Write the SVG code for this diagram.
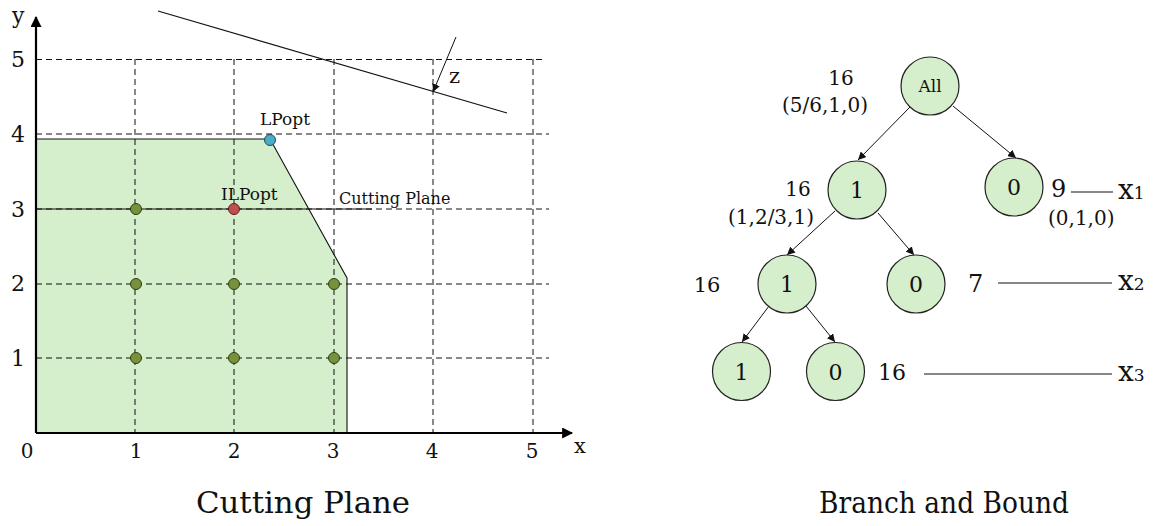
<svg xmlns="http://www.w3.org/2000/svg" width="1156" height="526" viewBox="0 0 1156 526">
<style>
.t{font-family:"DejaVu Serif","Liberation Serif",serif;fill:#111}
.m{text-anchor:middle}
.grid{stroke:#111;stroke-width:1;stroke-dasharray:6 4;fill:none}
.axis{stroke:#000;stroke-width:2.2;fill:none}
.thin{stroke:#111;stroke-width:1.1;fill:none}
.dot{fill:#76923c;stroke:#2f3d14;stroke-width:1}
.node circle{fill:#d5eecb;stroke:#222;stroke-width:1.2}
.edge{stroke:#111;stroke-width:1;fill:none;marker-end:url(#ah)}
</style>
<defs>
<marker id="ah" viewBox="0 0 10 10" refX="10" refY="5" markerWidth="8" markerHeight="8" markerUnits="userSpaceOnUse" orient="auto">
<path d="M0,0 L10,5 L0,10 z" fill="#111"/>
</marker>
<marker id="axh" viewBox="0 0 10 10" refX="9" refY="5" markerWidth="12" markerHeight="11" markerUnits="userSpaceOnUse" orient="auto">
<path d="M0,0 L10,5 L0,10 z" fill="#000"/>
</marker>
</defs>

<g id="cutting-plane">
<polygon points="36,139 270,139 347,278 347,433 36,433" fill="#d5eecb"/>
<g id="grid">
<line class="grid" x1="36" y1="59.5" x2="544" y2="59.5"/>
<line class="grid" x1="36" y1="134" x2="549" y2="134"/>
<line class="grid" x1="36" y1="209" x2="549" y2="209"/>
<line class="grid" x1="36" y1="284" x2="549" y2="284"/>
<line class="grid" x1="36" y1="358" x2="549" y2="358"/>
<line class="grid" x1="135" y1="59" x2="135" y2="433"/>
<line class="grid" x1="234" y1="59" x2="234" y2="433"/>
<line class="grid" x1="334" y1="59" x2="334" y2="433"/>
<line class="grid" x1="433" y1="59" x2="433" y2="433"/>
<line class="grid" x1="533" y1="59" x2="533" y2="433" stroke="#666"/>
</g>
<polyline class="thin" points="36,139 270,139 347,278 347,433"/>
<line class="thin" x1="36" y1="209" x2="372" y2="209"/>
<line class="axis" x1="36" y1="433" x2="36" y2="17" marker-end="url(#axh)"/>
<line class="axis" x1="36" y1="433" x2="572" y2="433" marker-end="url(#axh)"/>
<line class="thin" x1="158" y1="11" x2="507" y2="113"/>
<line class="edge" x1="456" y1="37" x2="433" y2="92"/>
<circle class="dot" cx="136" cy="209" r="5.5"/>
<circle class="dot" cx="136" cy="284" r="5.5"/>
<circle class="dot" cx="234" cy="284" r="5.5"/>
<circle class="dot" cx="334" cy="284" r="5.5"/>
<circle class="dot" cx="136" cy="358" r="5.5"/>
<circle class="dot" cx="234" cy="358" r="5.5"/>
<circle class="dot" cx="334" cy="358" r="5.5"/>
<circle cx="234" cy="209" r="5.5" fill="#c0504d" stroke="#5a1f1e" stroke-width="1"/>
<circle cx="270" cy="140" r="5.5" fill="#4bacc6" stroke="#1d4a57" stroke-width="1"/>
<text class="t" x="12" y="23" font-size="22">y</text>
<text class="t m" x="18" y="67" font-size="22">5</text>
<text class="t m" x="18" y="142" font-size="22">4</text>
<text class="t m" x="18" y="217" font-size="22">3</text>
<text class="t m" x="18" y="291" font-size="22">2</text>
<text class="t m" x="18" y="366" font-size="22">1</text>
<text class="t m" x="27" y="458" font-size="20">0</text>
<text class="t m" x="136" y="458" font-size="20">1</text>
<text class="t m" x="234" y="458" font-size="20">2</text>
<text class="t m" x="333" y="458" font-size="20">3</text>
<text class="t m" x="432" y="458" font-size="20">4</text>
<text class="t m" x="532" y="458" font-size="20">5</text>
<text class="t" x="574" y="453" font-size="21">x</text>
<text class="t" x="449" y="83" font-size="21">z</text>
<text class="t" x="260" y="125" font-size="17">LPopt</text>
<text class="t" x="221" y="200" font-size="17">ILPopt</text>
<text class="t" x="339" y="204" font-size="16">Cutting Plane</text>
<text class="t m" x="303" y="513" font-size="30" textLength="214" lengthAdjust="spacingAndGlyphs">Cutting Plane</text>
</g>

<g id="connectors">
<line class="edge" x1="910" y1="107" x2="858" y2="160"/>
<line class="edge" x1="953" y1="106" x2="1016" y2="158"/>
<line class="edge" x1="835" y1="211" x2="787" y2="255"/>
<line class="edge" x1="878" y1="213" x2="914" y2="255"/>
<line class="edge" x1="769" y1="306" x2="742" y2="342"/>
<line class="edge" x1="806" y1="306" x2="835" y2="342"/>
<line class="thin" x1="1071" y1="192" x2="1113" y2="192"/>
<line class="thin" x1="998" y1="283" x2="1112" y2="283"/>
<line class="thin" x1="924" y1="374" x2="1112" y2="374"/>
</g>

<g id="node-all" class="node"><circle cx="930" cy="86" r="29"/><text class="t m" x="930" y="92" font-size="17">All</text></g>
<g id="node-x1-1" class="node"><circle cx="857" cy="190" r="29"/><text class="t m" x="857" y="198" font-size="22">1</text></g>
<g id="node-x1-0" class="node"><circle cx="1014" cy="187" r="29"/><text class="t m" x="1014" y="195" font-size="22">0</text></g>
<g id="node-x2-1" class="node"><circle cx="787" cy="284" r="29"/><text class="t m" x="787" y="292" font-size="22">1</text></g>
<g id="node-x2-0" class="node"><circle cx="916" cy="284" r="29"/><text class="t m" x="916" y="292" font-size="22">0</text></g>
<g id="node-x3-1" class="node"><circle cx="741.5" cy="371.5" r="29"/><text class="t m" x="741.5" y="379.5" font-size="22">1</text></g>
<g id="node-x3-0" class="node"><circle cx="835.5" cy="371.5" r="29"/><text class="t m" x="835.5" y="379.5" font-size="22">0</text></g>

<g id="labels">
<text class="t m" x="841" y="85" font-size="20">16</text>
<text class="t m" x="825" y="112" font-size="20">(5/6,1,0)</text>
<text class="t m" x="798" y="196" font-size="20">16</text>
<text class="t m" x="771" y="224" font-size="20">(1,2/3,1)</text>
<text class="t" x="1051" y="197" font-size="24">9</text>
<text class="t" x="1048" y="225" font-size="20">(0,1,0)</text>
<text class="t" x="1118" y="199" font-size="28">x<tspan font-size="17">1</tspan></text>
<text class="t m" x="707" y="292" font-size="21">16</text>
<text class="t" x="968" y="292" font-size="24">7</text>
<text class="t" x="1118" y="290" font-size="28">x<tspan font-size="17">2</tspan></text>
<text class="t" x="878" y="380" font-size="22">16</text>
<text class="t" x="1118" y="381" font-size="28">x<tspan font-size="17">3</tspan></text>
<text class="t m" x="944" y="513" font-size="30" textLength="250" lengthAdjust="spacingAndGlyphs">Branch and Bound</text>
</g>
</svg>
